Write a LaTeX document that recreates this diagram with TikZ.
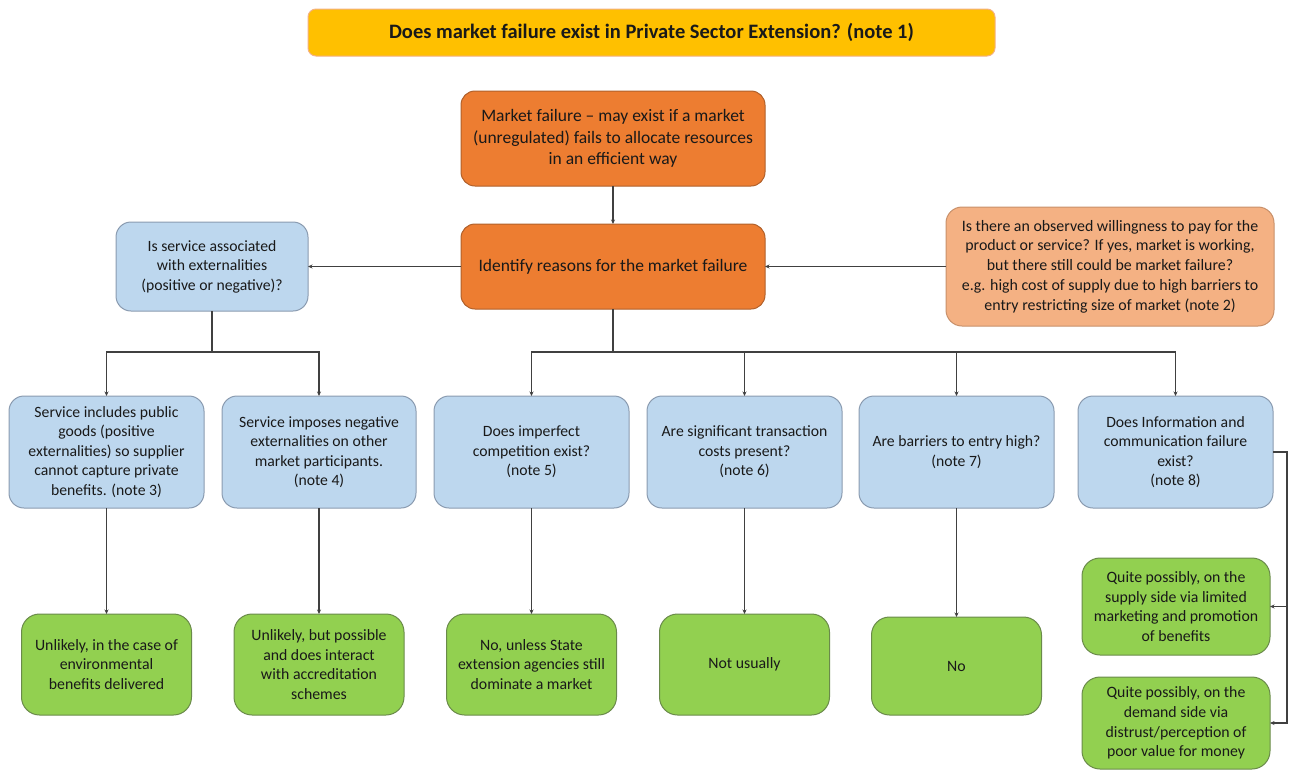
\documentclass[tikz,border=0pt]{standalone}
\usepackage{fontspec}
\setmainfont{Carlito}
\usetikzlibrary{arrows.meta}
\definecolor{gold}{HTML}{FFC000}
\definecolor{goldline}{HTML}{F4B183}
\definecolor{orng}{HTML}{ED7D31}
\definecolor{orngline}{HTML}{B0602A}
\definecolor{lorng}{HTML}{F4B183}
\definecolor{lblue}{HTML}{BDD7EE}
\definecolor{blueline}{HTML}{8A9BB0}
\definecolor{lgreen}{HTML}{92D050}
\definecolor{greenline}{HTML}{6A8A4A}
\definecolor{conn}{HTML}{404040}
\begin{document}
\begin{tikzpicture}[x=1pt,y=-1pt,
  base/.style={draw, line width=1pt, align=center, inner sep=2pt, outer sep=0pt, text=black!90},
  titlebox/.style={base, fill=gold, draw=goldline, rounded corners=8pt, font=\fontsize{20.5}{24}\selectfont\bfseries},
  darkbox/.style={base, fill=orng, draw=orngline, rounded corners=14pt, font=\fontsize{17.5}{21.5}\selectfont},
  peachbox/.style={base, fill=lorng, draw=orngline!70, rounded corners=16pt, font=\fontsize{15.9}{19.7}\selectfont},
  bluebox/.style={base, fill=lblue, draw=blueline, rounded corners=15pt, font=\fontsize{15.7}{19.5}\selectfont},
  greenbox/.style={base, fill=lgreen, draw=greenline, rounded corners=18pt, font=\fontsize{15.8}{19.8}\selectfont},
  link/.style={draw=conn, line width=1.2pt},
  arr/.style={link, -{Stealth[length=4.5pt,width=4pt]}}
]
\useasboundingbox (0,0) rectangle (1292,769);

\node[titlebox, minimum width=687, minimum height=47] (title) at (651.5,32.5)
  {Does market failure exist in Private Sector Extension? (note 1)};

\node[darkbox, minimum width=304, minimum height=95] (mf) at (613,138.5)
  {Market failure -- may exist if a market\\(unregulated) fails to allocate resources\\in an efficient way};
\node[darkbox, minimum width=304, minimum height=85] (id) at (613,266.5)
  {Identify reasons for the market failure};
\node[peachbox, minimum width=328, minimum height=119] (wl) at (1110,266.5)
  {Is there an observed willingness to pay for the\\product or service? If yes, market is working,\\but there still could be market failure?\\e.g. high cost of supply due to high barriers to\\entry restricting size of market (note 2)};
\node[bluebox, minimum width=192, minimum height=89] (ex) at (212,266.5)
  {Is service associated\\with externalities\\(positive or negative)?};

\node[bluebox, minimum width=195, minimum height=112] (b1) at (106.5,452)
  {Service includes public\\goods (positive\\externalities) so supplier\\cannot capture private\\benefits. (note 3)};
\node[bluebox, minimum width=194, minimum height=112] (b2) at (319,452)
  {Service imposes negative\\externalities on other\\market participants.\\(note 4)};
\node[bluebox, minimum width=195, minimum height=112] (b3) at (531.5,452)
  {Does imperfect\\competition exist?\\(note 5)};
\node[bluebox, minimum width=195, minimum height=112] (b4) at (744.5,452)
  {Are significant transaction\\costs present?\\(note 6)};
\node[bluebox, minimum width=195, minimum height=112] (b5) at (956.5,452)
  {Are barriers to entry high?\\(note 7)};
\node[bluebox, minimum width=195, minimum height=112] (b6) at (1175.5,452)
  {Does Information and\\communication failure\\exist?\\(note 8)};

\node[greenbox, minimum width=170, minimum height=101] (g1) at (106.5,664.5)
  {Unlikely, in the case of\\environmental\\benefits delivered};
\node[greenbox, minimum width=170, minimum height=101] (g2) at (319,664.5)
  {Unlikely, but possible\\and does interact\\with accreditation\\schemes};
\node[greenbox, minimum width=170, minimum height=101] (g3) at (531.5,664.5)
  {No, unless State\\extension agencies still\\dominate a market};
\node[greenbox, minimum width=170, minimum height=101] (g4) at (744.5,664.5)
  {Not usually};
\node[greenbox, minimum width=170, minimum height=98] (g5) at (956.5,666)
  {No};
\node[greenbox, minimum width=188, minimum height=97] (g6) at (1176,606.5)
  {Quite possibly, on the\\supply side via limited\\marketing and promotion\\of benefits};
\node[greenbox, minimum width=188, minimum height=92] (g7) at (1176,723)
  {Quite possibly, on the\\demand side via\\distrust/perception of\\poor value for money};

% connectors
\draw[arr] (mf.south) -- (id.north);
\draw[arr] (id.west) -- (ex.east);
\draw[arr] (wl.west) -- (id.east);

\coordinate (exj) at (212,352);
\draw[link] (ex.south) -- (exj);
\draw[arr] (exj) -| (b1.north);
\draw[arr] (exj) -| (b2.north);

\coordinate (idj) at (613,352);
\draw[link] (id.south) -- (idj);
\draw[arr] (idj) -| (b3.north);
\draw[arr] (idj) -| (b4.north);
\draw[arr] (idj) -| (b5.north);
\draw[arr] (idj) -| (b6.north);

\draw[arr] (b1.south) -- (g1.north);
\draw[arr] (b2.south) -- (g2.north);
\draw[arr] (b3.south) -- (g3.north);
\draw[arr] (b4.south) -- (g4.north);
\draw[arr] (b5.south) -- (g5.north);

\coordinate (rj) at (1287,452);
\draw[arr] (b6.east) -- (rj) |- (g7.east);
\draw[arr] (rj) |- (g6.east);
\end{tikzpicture}
\end{document}
